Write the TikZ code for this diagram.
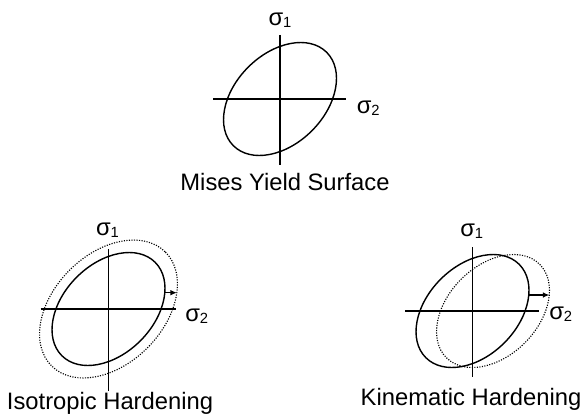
\documentclass[tikz,border=0pt]{standalone}
\usepackage{fontspec}
\setmainfont{Liberation Sans}
\usetikzlibrary{arrows.meta}
\newcommand{\sig}[1]{σ\raisebox{-1.5pt}{\fontsize{10.5}{10.5}\selectfont #1}}

\begin{document}
\begin{tikzpicture}[x=0.025cm, y=-0.025cm,
    axis/.style={line width=1.3pt},
    yield/.style={line width=1pt},
    grown/.style={line width=0.8pt, densely dotted},
    shiftarrow/.style={line width=1pt, -{Latex[length=4.5pt, width=4pt]}},
    lbl/.style={font=\fontsize{16.9}{20}\selectfont, anchor=base},
    sym/.style={font=\fontsize{16.9}{20}\selectfont, inner sep=0pt},
]
    \useasboundingbox (0,0) rectangle (582,413);

    % Mises yield surface
    \coordinate (mo) at (280,99);
    \draw[axis] (mo) ++(-67,0) -- ++(133,0);
    \draw[axis] (mo) ++(0,-64) -- ++(0,130);
    \draw[yield, rotate around={45:(mo)}] (mo) ellipse [x radius=66, y radius=45];
    \node[sym] (ms1) at (280,20) {\sig{1}};
    \node[sym, anchor=west] (ms2) at (356.5,108) {\sig{2}};
    \node[lbl] (ml) at (285,190) {Mises Yield Surface};

    % Isotropic hardening
    \coordinate (io) at (108.5,309);
    \draw[axis] (io) ++(-68,0) -- ++(135,0);
    \draw[axis] (io) ++(0,-60) -- ++(0,142);
    \draw[yield, rotate around={45:(io)}] (io) ellipse [x radius=66, y radius=45];
    \draw[grown, rotate around={45:(io)}] (io) ellipse [x radius=80.5, y radius=55];
    \coordinate (ia) at (164.8,292.7);
    \coordinate (ib) at (176.8,292.7);
    \draw[shiftarrow] (ia) -- (ib);
    \node[sym] (is1) at (107.5,230) {\sig{1}};
    \node[sym, anchor=west] (is2) at (185,316.5) {\sig{2}};
    \node[lbl] (il) at (110,409) {Isotropic Hardening};

    % Kinematic hardening
    \coordinate (ko) at (472.5,311);
    \coordinate (kn) at (493,311);
    \draw[axis] (ko) ++(-67.5,0) -- ++(133.5,0);
    \draw[axis] (ko) ++(0,-64) -- ++(0,130);
    \draw[yield, rotate around={45:(ko)}] (ko) ellipse [x radius=66, y radius=45];
    \draw[grown, rotate around={45:(kn)}] (kn) ellipse [x radius=66, y radius=45];
    \coordinate (ka) at (528.8,295);
    \coordinate (kb) at (549.3,295);
    \draw[shiftarrow] (ka) -- (kb);
    \node[sym] (ks1) at (471.7,231.5) {\sig{1}};
    \node[sym, anchor=west] (ks2) at (549,314) {\sig{2}};
    \node[lbl] (kl) at (471,405.7) {Kinematic Hardening};
\end{tikzpicture}
\end{document}
